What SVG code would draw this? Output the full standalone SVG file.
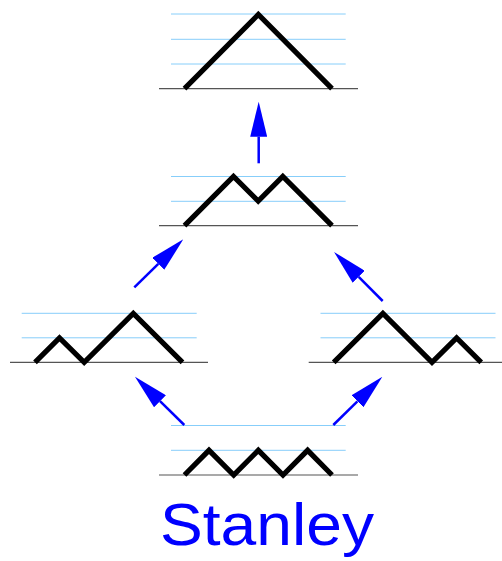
<svg xmlns="http://www.w3.org/2000/svg" width="502" height="561" viewBox="0 0 502 561">
<style>
.grid{stroke:#87cefa;stroke-width:1;fill:none}
.base{stroke:#555;stroke-width:1.2;fill:none}
.dyck{stroke:#000;stroke-width:5.2;fill:none;stroke-linejoin:miter;stroke-linecap:butt}
.arr{stroke:#0000ff;stroke-width:2.5;fill:none;marker-end:url(#ah)}
.lbl{font-family:"Liberation Sans",Arial,sans-serif;font-size:60px;fill:#0000ff}
</style>
<defs>
<marker id="ah" viewBox="0 0 35 17" refX="0" refY="8.5" markerWidth="35" markerHeight="17" markerUnits="userSpaceOnUse" orient="auto">
<path d="M0,0 L35,8.5 L0,17 z" fill="#0000ff"/>
</marker>
</defs>
<rect width="502" height="561" fill="#fff"/>
<g id="top">
<path class="grid" d="M171,14H345.7M171,39.3H345.7M171,64H345.7"/>
<path class="base" d="M159,88.7H358"/>
<path class="dyck" d="M184.5,88.7L258.3,14.5L332,88.7"/>
</g>
<g id="middle">
<path class="grid" d="M171,176.5H345.7M171,201.3H345.7"/>
<path class="base" d="M159,225.7H358"/>
<path class="dyck" d="M184.5,225.7L233.5,176.5L258.2,201.1L282.8,176.5L332,225.7"/>
</g>
<g id="left">
<path class="grid" d="M21.7,313.3H196.7M21.7,337.8H196.7"/>
<path class="base" d="M10,362.3H208"/>
<path class="dyck" d="M35,362.3L59.5,337.8L84.2,362.3L133.3,313.3L182.5,362.3"/>
</g>
<g id="right">
<path class="grid" d="M320.5,313.3H495.5M320.5,337.8H495.5"/>
<path class="base" d="M308.7,362.3H502"/>
<path class="dyck" d="M333.7,362.3L382.9,313.3L432,362.3L456.6,337.8L481.2,362.3"/>
</g>
<g id="bottom">
<path class="grid" d="M171,425.5H345.7M171,450.3H345.7"/>
<path class="base" d="M159,475H358"/>
<path class="dyck" d="M184.5,475L209,450.3L233.7,475L258.3,450.3L283,475L307.6,450.3L332,475"/>
</g>
<g id="connectors">
<path class="arr" d="M258.7,163.3L258.7,136.7"/>
<path class="arr" d="M134.3,287.3L158.3,263.8"/>
<path class="arr" d="M382.7,301L358.7,276.8"/>
<path class="arr" d="M184.3,425L160,401.2"/>
<path class="arr" d="M333.3,425L357.4,401.3"/>
</g>
<text class="lbl" x="160" y="545" textLength="214" lengthAdjust="spacingAndGlyphs">Stanley</text>
</svg>
